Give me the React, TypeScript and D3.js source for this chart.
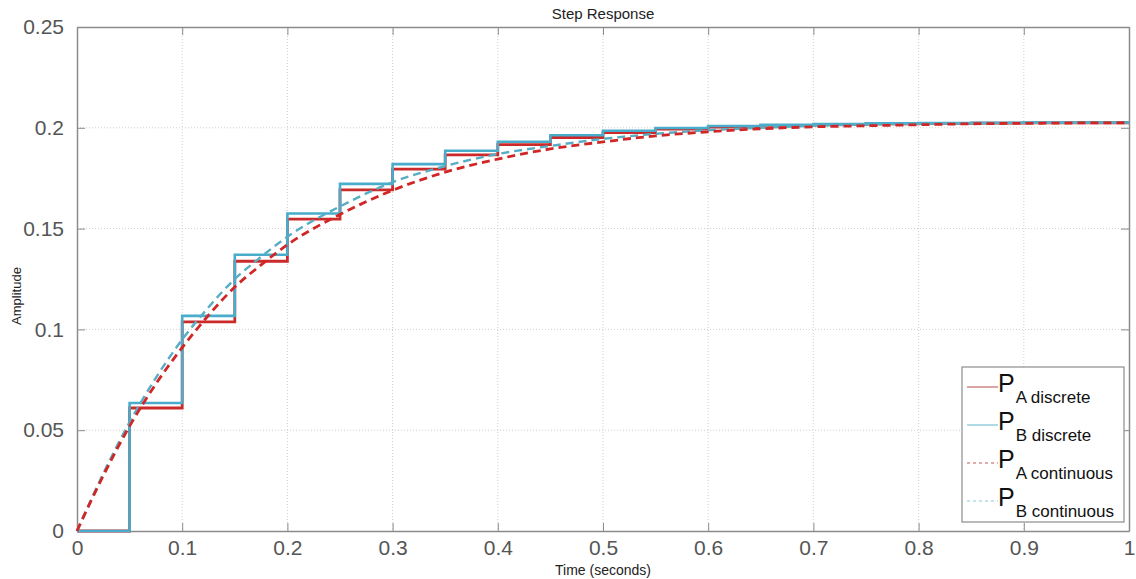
import React, { useEffect, useRef } from 'react';
import * as d3 from 'd3';

// sample instants of the discrete responses (T = 0.05 s)
const sampleTimes = [0, 0.05, 0.1, 0.15, 0.2, 0.25, 0.3, 0.35, 0.4, 0.45, 0.5,
  0.55, 0.6, 0.65, 0.7, 0.75, 0.8, 0.85, 0.9, 0.95, 1.0];
const discreteA = [0, 0.061, 0.1037, 0.1338, 0.1547, 0.1692, 0.1795, 0.1866, 0.1917, 0.1952, 0.1976,
  0.1993, 0.2004, 0.2012, 0.2017, 0.202, 0.2022, 0.2023, 0.2024, 0.2025, 0.2025];
const discreteB = [0, 0.0635, 0.1067, 0.137, 0.1575, 0.1722, 0.182, 0.1886, 0.1931, 0.1963, 0.1985,
  0.1999, 0.2009, 0.2015, 0.2019, 0.2022, 0.2024, 0.2025, 0.2026, 0.2026, 0.2026];

// continuous responses
const contTimes = [0, 0.025, 0.05, 0.075, 0.1, 0.125, 0.15, 0.175, 0.2, 0.25, 0.3, 0.35, 0.4, 0.45,
  0.5, 0.55, 0.6, 0.65, 0.7, 0.75, 0.8, 0.85, 0.9, 0.95, 1.0];
const continuousA = [0, 0.0275, 0.052, 0.073, 0.091, 0.107, 0.121, 0.132, 0.142, 0.157, 0.169, 0.178,
  0.1845, 0.1895, 0.193, 0.196, 0.198, 0.1995, 0.2005, 0.201, 0.2015, 0.202, 0.2022, 0.2024, 0.2025];
const continuousB = [0, 0.0285, 0.054, 0.076, 0.095, 0.111, 0.125, 0.136, 0.146, 0.161, 0.173, 0.181,
  0.187, 0.191, 0.1945, 0.197, 0.1988, 0.2, 0.201, 0.2016, 0.202, 0.2022, 0.2024, 0.2025, 0.2026];

const xTicks = [0, 0.1, 0.2, 0.3, 0.4, 0.5, 0.6, 0.7, 0.8, 0.9, 1];
const yTicks = [0, 0.05, 0.1, 0.15, 0.2, 0.25];

const legendItems = [
  { sub: 'A discrete', color: '#c46a6a', dash: null },
  { sub: 'B discrete', color: '#7cc4d6', dash: null },
  { sub: 'A continuous', color: '#c45a5a', dash: '3,3' },
  { sub: 'B continuous', color: '#8cc8d4', dash: '3,3' },
];

const App = () => {
  const svgRef = useRef<SVGSVGElement>(null);

  useEffect(() => {
    const svg = d3.select(svgRef.current);
    svg.selectAll('*').remove();

    const left = 77, right = 1129, top = 27, bottom = 531;
    const x = d3.scaleLinear().domain([0, 1]).range([left, right]);
    const y = d3.scaleLinear().domain([0, 0.25]).range([bottom, top]);
    const font = 'Arial, "Liberation Sans", sans-serif';
    const axisColor = '#8c8c8c';

    svg.append('rect').attr('width', 1136).attr('height', 579).attr('fill', '#fff');

    // grid
    const grid = svg.append('g').attr('stroke', '#cfcfcf').attr('stroke-dasharray', '1,2');
    grid.selectAll('.gx').data(xTicks.slice(1, -1)).enter().append('line')
      .attr('x1', d => x(d)).attr('x2', d => x(d)).attr('y1', top).attr('y2', bottom);
    grid.selectAll('.gy').data(yTicks.slice(1, -1)).enter().append('line')
      .attr('y1', d => y(d)).attr('y2', d => y(d)).attr('x1', left).attr('x2', right);

    // axes with inward ticks on all four sides
    const axB = svg.append('g').attr('transform', `translate(0,${bottom})`)
      .call(d3.axisBottom(x).tickValues(xTicks).tickSizeInner(-8).tickSizeOuter(0)
        .tickPadding(17).tickFormat(d => d3.format('~g')(d as number)));
    const axL = svg.append('g').attr('transform', `translate(${left},0)`)
      .call(d3.axisLeft(y).tickValues(yTicks).tickSizeInner(-8).tickSizeOuter(0)
        .tickPadding(13).tickFormat(d => d3.format('~g')(d as number)));
    const axT = svg.append('g').attr('transform', `translate(0,${top})`)
      .call(d3.axisTop(x).tickValues(xTicks).tickSizeInner(-8).tickSizeOuter(0).tickFormat(() => ''));
    const axR = svg.append('g').attr('transform', `translate(${right},0)`)
      .call(d3.axisRight(y).tickValues(yTicks).tickSizeInner(-8).tickSizeOuter(0).tickFormat(() => ''));
    [axB, axL, axT, axR].forEach(g => {
      g.select('.domain').attr('stroke', axisColor).attr('stroke-width', 1.5);
      g.selectAll('.tick line').attr('stroke', axisColor);
      g.selectAll('text').attr('font-family', font).attr('font-size', 21).attr('fill', '#555');
    });
    axB.selectAll('.tick text').attr('dy', '0.71em').attr('y', 9);

    const plot = svg.append('g');
    const step = d3.line<number>().x((_, i) => x(sampleTimes[i])).y(d => y(d)).curve(d3.curveStepAfter);
    const smooth = d3.line<number>().x((_, i) => x(contTimes[i])).y(d => y(d)).curve(d3.curveMonotoneX);

    plot.append('path').datum(discreteA).attr('d', step).attr('fill', 'none')
      .attr('stroke', '#cc2a2a').attr('stroke-width', 2.8);
    plot.append('path').datum(discreteB).attr('d', step).attr('fill', 'none')
      .attr('stroke', '#4aaccb').attr('stroke-width', 2.6);
    plot.append('path').datum(continuousB).attr('d', smooth).attr('fill', 'none')
      .attr('stroke', '#56adc4').attr('stroke-width', 2.4).attr('stroke-dasharray', '8,5');
    plot.append('path').datum(continuousA).attr('d', smooth).attr('fill', 'none')
      .attr('stroke', '#d12626').attr('stroke-width', 2.8).attr('stroke-dasharray', '8,5');

    // titles
    svg.append('text').attr('x', (left + right) / 2).attr('y', 19).attr('text-anchor', 'middle')
      .attr('font-family', font).attr('font-size', 15).attr('fill', '#222').text('Step Response');
    svg.append('text').attr('x', (left + right) / 2).attr('y', 575).attr('text-anchor', 'middle')
      .attr('font-family', font).attr('font-size', 14).attr('fill', '#222').text('Time (seconds)');
    svg.append('text').attr('transform', 'translate(21,296) rotate(-90)').attr('text-anchor', 'middle')
      .attr('font-family', font).attr('font-size', 13).attr('fill', '#222').text('Amplitude');

    // legend
    const lg = svg.append('g');
    lg.append('rect').attr('x', 962).attr('y', 367).attr('width', 162).attr('height', 155)
      .attr('fill', '#fff').attr('stroke', '#8c8c8c').attr('stroke-width', 1.2);
    legendItems.forEach((item, i) => {
      const ly = 387 + i * 38;
      const ln = lg.append('line').attr('x1', 967).attr('x2', 998).attr('y1', ly).attr('y2', ly)
        .attr('stroke', item.color).attr('stroke-width', 1.2);
      if (item.dash) ln.attr('stroke-dasharray', item.dash);
      const t = lg.append('text').attr('x', 998).attr('y', ly + 5).attr('font-family', font).attr('fill', '#111');
      t.append('tspan').attr('font-size', 25).text('P');
      t.append('tspan').attr('font-size', 17).attr('dy', 11).attr('dx', 1).text(item.sub);
    });
  }, []);

  return (
    <svg ref={svgRef} width={1136} height={579}
      style={{ position: 'absolute', left: 0, top: 0 }} />
  );
};

export default App;
